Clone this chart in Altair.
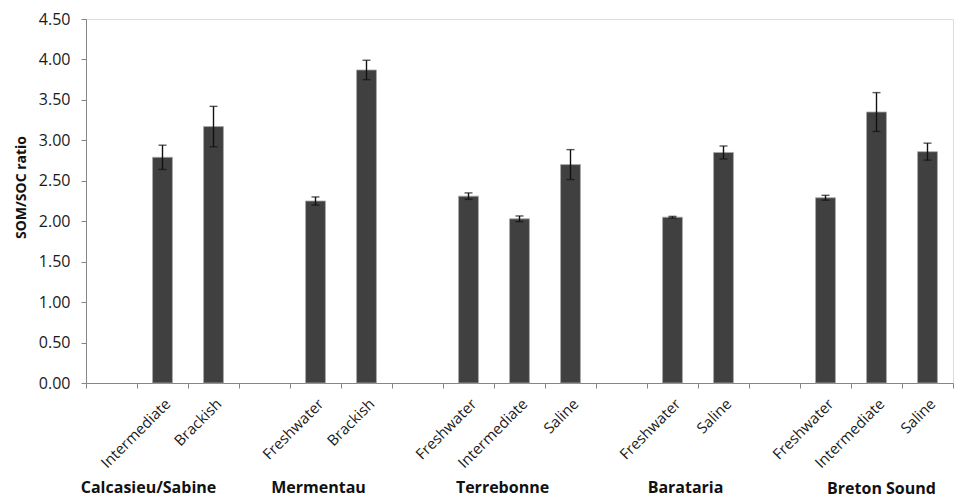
import altair as alt
import pandas as pd

# ---------------- data ----------------
regions = ["Calcasieu/Sabine", "Mermentau", "Terrebonne", "Barataria", "Breton Sound"]
bar_region = ["Calcasieu/Sabine", "Calcasieu/Sabine", "Mermentau", "Mermentau",
              "Terrebonne", "Terrebonne", "Terrebonne", "Barataria", "Barataria",
              "Breton Sound", "Breton Sound", "Breton Sound"]
bar_marsh = ["Intermediate", "Brackish", "Freshwater", "Brackish",
             "Freshwater", "Intermediate", "Saline", "Freshwater", "Saline",
             "Freshwater", "Intermediate", "Saline"]
ratio = [2.79, 3.17, 2.25, 3.87, 2.31, 2.03, 2.70, 2.05, 2.85, 2.29, 3.35, 2.86]
err = [0.15, 0.25, 0.05, 0.12, 0.04, 0.035, 0.185, 0.01, 0.08, 0.03, 0.24, 0.105]
y_ticks = [0.0, 0.5, 1.0, 1.5, 2.0, 2.5, 3.0, 3.5, 4.0, 4.5]
y_title = "SOM/SOC ratio"

# ---------------- tables ----------------
df = pd.DataFrame({"region": bar_region, "marsh": bar_marsh, "ratio": ratio, "err": err})
df["key"] = df["region"] + "|" + df["marsh"]
df["lo"] = df["ratio"] - df["err"]
df["hi"] = df["ratio"] + df["err"]

domain = []
for r in regions:
    domain.append(r + "|")  # empty leading slot of each region
    domain += [r + "|" + m for m in df.loc[df["region"] == r, "marsh"]]

# ---------------- styles ----------------
FONT = "Open Sans"
AXIS_GREY = "#868686"
BAR_FILL = "#404040"
W, H = 867, 364
# group-label anchor slot (marsh type) and pixel nudge
label_anchor = {"Calcasieu/Sabine": ("Intermediate", -14, 0),
                "Mermentau": ("Freshwater", 3, 0),
                "Terrebonne": ("Freshwater", 34, 0),
                "Barataria": ("Freshwater", 13, 0),
                "Breton Sound": ("Intermediate", 5, 1)}

xscale = alt.Scale(domain=domain, paddingInner=0, paddingOuter=0)
yscale = alt.Scale(domain=[0, 4.5], nice=False, zero=True)

x_axis = alt.Axis(
    title=None, labelExpr="split(datum.value, '|')[1]", labelAngle=-45,
    labelAlign="right", labelBaseline="top", labelFontSize=15, labelColor="#1a1a1a",
    labelPadding=8, tickBand="extent", tickSize=5, tickColor=AXIS_GREY,
    domainColor=AXIS_GREY, labelFont=FONT, labelOverlap=False, labelBound=False,
)
y_axis = alt.Axis(
    title=y_title, values=y_ticks, format=".2f", grid=False, tickSize=5,
    tickColor=AXIS_GREY, domainColor=AXIS_GREY, labelFontSize=16, labelColor="#1a1a1a",
    labelPadding=11, labelFont=FONT, titleFont=FONT, titleFontSize=14,
    titleFontWeight="bold", titleColor="#111111", titleX=-65, titleY=168,
    titleAngle=-90, titleAlign="center", titleBaseline="middle",
)

base = alt.Chart(df)
bars = base.mark_bar(color=BAR_FILL, stroke="#a8a8a8", strokeWidth=0.8,
                     width=alt.RelativeBandSize(0.39)).encode(
    x=alt.X("key:N", scale=xscale, axis=x_axis, sort=domain),
    y=alt.Y("ratio:Q", scale=yscale, axis=y_axis),
)
rule = base.mark_rule(color="#111111", strokeWidth=1.4).encode(
    x=alt.X("key:N", scale=xscale, sort=domain),
    y=alt.Y("lo:Q", scale=yscale),
    y2="hi:Q",
)
cap_lo = base.mark_tick(color="#111111", thickness=1.4, size=8).encode(
    x=alt.X("key:N", scale=xscale, sort=domain),
    y=alt.Y("lo:Q", scale=yscale),
)
cap_hi = base.mark_tick(color="#111111", thickness=1.4, size=8).encode(
    x=alt.X("key:N", scale=xscale, sort=domain),
    y=alt.Y("hi:Q", scale=yscale),
)

layers = [bars, rule, cap_lo, cap_hi]
for r in regions:
    m, dx, dy = label_anchor[r]
    lab = pd.DataFrame({"key": [r + "|" + m], "region": [r]})
    layers.append(
        alt.Chart(lab).mark_text(font=FONT, fontSize=16, fontWeight="bold",
                                 color="#111111", baseline="alphabetic",
                                 align="center", dx=dx, dy=dy).encode(
            x=alt.X("key:N", scale=xscale, sort=domain),
            y=alt.value(H + 110),
            text="region:N",
        )
    )

chart = alt.layer(*layers).properties(
    width=W, height=H,
    autosize=alt.AutoSizeParams(type="none"),
    padding={"left": 78, "top": 11, "right": 2, "bottom": 117},
).configure_view(stroke=None).configure(font=FONT)

chart.save("out.html", embed_options={"renderer": "svg", "actions": False})
